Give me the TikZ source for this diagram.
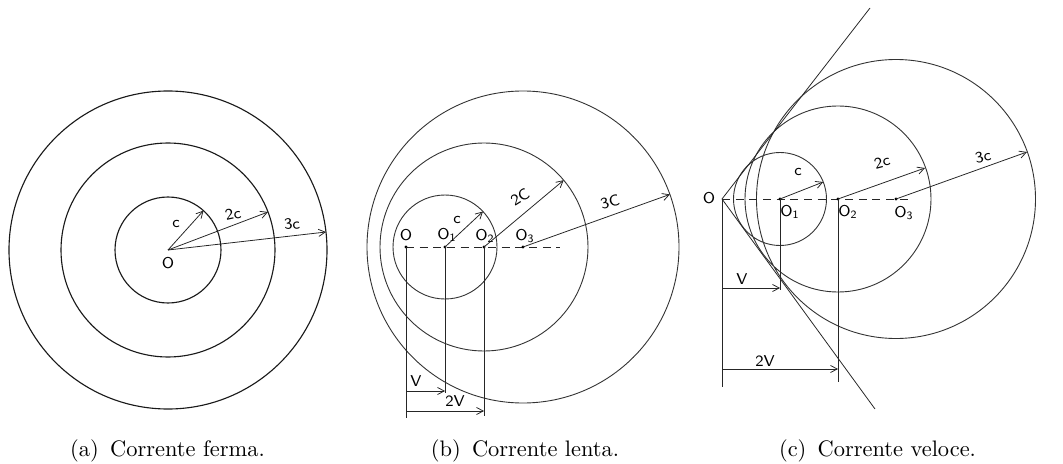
\documentclass[tikz,border=0pt]{standalone}
\usetikzlibrary{arrows.meta}
\begin{document}
\begin{tikzpicture}[x=0.446pt,y=-0.446pt,
  wave/.style={line width=0.4pt, black!80},
  vec/.style={line width=0.35pt, black!85, -{Straight Barb[length=3pt,width=3.2pt]}},
  guide/.style={line width=0.35pt, black!85},
  axisdash/.style={line width=0.4pt, black!85, dash pattern=on 3.5pt off 2.6pt},
  lbl/.style={font=\sffamily\scriptsize, inner sep=0.5pt},
  captxt/.style={font=\normalsize, inner sep=0pt},
  dot/.style={fill=black, inner sep=0pt, minimum size=1.4pt, circle}]
\useasboundingbox (0,0) rectangle (1063,464);

% ---------------- (a) ----------------
\coordinate (aO) at (168,250);
\draw[wave,line width=0.5pt,black!90] (aO) circle (53) (aO) circle (107) (aO) circle (159);
\coordinate (aT1) at (203.5,210.6);
\coordinate (aT2) at (268,212);
\coordinate (aT3) at (326,232);
\draw[vec] (aO) -- (aT1);
\draw[vec] (aO) -- (aT2);
\draw[vec] (aO) -- (aT3);
\node[lbl] (aLc) at (176,224) {c};
\node[lbl,rotate=12] (aL2c) at (233,214) {2c};
\node[lbl,rotate=5] (aL3c) at (292,224) {3c};
\node[lbl] (aLO) at (168,263) {O};

% ---------------- (b) ----------------
\coordinate (bO) at (406,247);
\coordinate (bO1) at (445,247);
\coordinate (bO2) at (484,247);
\coordinate (bO3) at (523,247);
\coordinate (bE) at (560,247);
\draw[wave] (bO1) circle (52) (bO2) circle (104) (bO3) circle (156);
\draw[axisdash] (bO) -- (bE);
\foreach \p in {bO,bO1,bO2,bO3} \node[dot] at (\p) {};
\coordinate (bT1) at (483,211.5);
\coordinate (bT2) at (563.7,180.2);
\coordinate (bT3) at (669.9,194.4);
\draw[vec] (bO1) -- (bT1);
\draw[vec] (bO2) -- (bT2);
\draw[vec] (bO3) -- (bT3);
\coordinate (bOd) at (406,418);
\coordinate (bO1d) at (445,393);
\coordinate (bO2d) at (484,416);
\draw[guide] (bO) -- (bOd);
\draw[guide] (bO1) -- (bO1d);
\draw[guide] (bO2) -- (bO2d);
\coordinate (bV0) at (406,391);
\coordinate (bV1) at (445,391);
\coordinate (bW0) at (406,411);
\coordinate (bW1) at (484,411);
\draw[vec] (bV0) -- (bV1);
\draw[vec] (bW0) -- (bW1);
\node[lbl] (bLO) at (406,235) {O};
\node[lbl] (bLO1) at (447,235) {O\textsubscript{1}};
\node[lbl] (bLO2) at (485,236) {O\textsubscript{2}};
\node[lbl] (bLO3) at (525,236) {O\textsubscript{3}};
\node[lbl] (bLc) at (457,220) {c};
\node[lbl,rotate=32] (bL2c) at (520,197) {2C};
\node[lbl,rotate=15] (bL3c) at (610,202) {3C};
\node[lbl] (bLV) at (416,381) {V};
\node[lbl] (bL2V) at (455,401) {2V};

% ---------------- (c) ----------------
\coordinate (cO) at (722,199);
\coordinate (cO1) at (780,199);
\coordinate (cO2) at (838,199);
\coordinate (cO3) at (896,199);
\coordinate (cE) at (913,199);
\draw[wave] (cO1) circle (46.5) (cO2) circle (93) (cO3) circle (139.5);
\coordinate (cUp) at (870,8);
\coordinate (cDn) at (875,409);
\draw[guide] (cUp) -- (cO) -- (cDn);
\draw[axisdash] (cO) -- (cE);
\foreach \p in {cO1,cO2,cO3} \node[dot] at (\p) {};
\coordinate (cT1) at (823.2,182);
\coordinate (cT2) at (925,168);
\coordinate (cT3) at (1027,152);
\draw[vec] (cO1) -- (cT1);
\draw[vec] (cO2) -- (cT2);
\draw[vec] (cO3) -- (cT3);
\coordinate (cOd) at (722,387);
\coordinate (cO1d) at (780,290);
\coordinate (cO2d) at (838,382);
\draw[guide] (cO) -- (cOd);
\draw[guide] (cO1) -- (cO1d);
\draw[guide] (cO2) -- (cO2d);
\coordinate (cV0) at (722,288);
\coordinate (cV1) at (780,288);
\coordinate (cW0) at (722,369);
\coordinate (cW1) at (838,369);
\draw[vec] (cV0) -- (cV1);
\draw[vec] (cW0) -- (cW1);
\node[lbl] (cLO) at (709,198) {O};
\node[lbl] (cLO1) at (790,212) {O\textsubscript{1}};
\node[lbl] (cLO2) at (848,212) {O\textsubscript{2}};
\node[lbl] (cLO3) at (904,213) {O\textsubscript{3}};
\node[lbl] (cLc) at (798,172) {c};
\node[lbl,rotate=15] (cL2c) at (882,162) {2c};
\node[lbl,rotate=12] (cL3c) at (983,157) {3c};
\node[lbl] (cLV) at (742,279) {V};
\node[lbl] (cL2V) at (765,361) {2V};

% ---------------- captions ----------------
\node[captxt] (capa) at (167.5,451) {(a)\hspace{0.5em}Corrente ferma.};
\node[captxt] (capb) at (525,451) {(b)\hspace{0.5em}Corrente lenta.};
\node[captxt] (capc) at (877.5,451) {(c)\hspace{0.5em}Corrente veloce.};
\end{tikzpicture}
\end{document}
